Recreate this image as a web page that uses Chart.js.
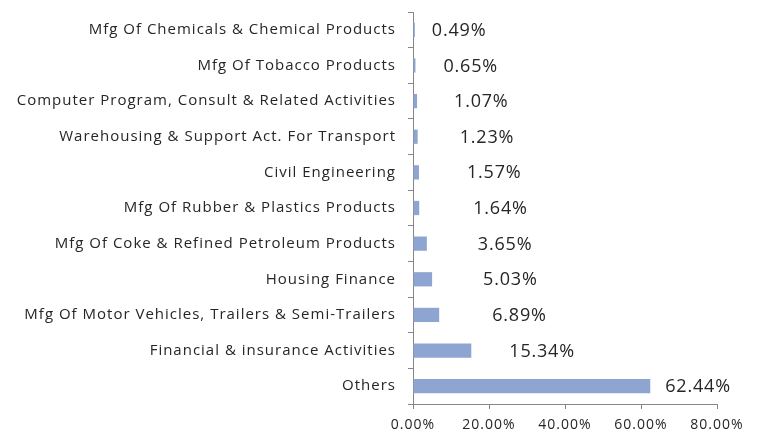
<!DOCTYPE html>
<html><head><meta charset="utf-8">
<script src="https://cdn.jsdelivr.net/npm/chart.js@4/dist/chart.umd.min.js"></script>
<style>html,body{margin:0;padding:0;background:#fff}#wrap{width:760px;height:436px}</style>
</head><body><div id="wrap"><canvas id="c" width="760" height="436"></canvas></div>
<script>
const categories = [
  "Mfg Of Chemicals & Chemical Products",
  "Mfg Of Tobacco Products",
  "Computer Program, Consult & Related Activities",
  "Warehousing & Support Act. For Transport",
  "Civil Engineering",
  "Mfg Of Rubber & Plastics Products",
  "Mfg Of Coke & Refined Petroleum Products",
  "Housing Finance",
  "Mfg Of Motor Vehicles, Trailers & Semi-Trailers",
  "Financial & insurance Activities",
  "Others"
];
const shares = [0.49, 0.65, 1.07, 1.23, 1.57, 1.64, 3.65, 5.03, 6.89, 15.34, 62.44];
const xTicks = [0, 20, 40, 60, 80];
const labelGaps = [17, 28, 37, 42, 48, 54, 51, 51, 53, 38, 15];

const FONT = "'Open Sans', sans-serif";
const spacingPlugin = {
  id: 'spacing',
  beforeDraw(chart) { chart.ctx.letterSpacing = '1px'; }
};
const labelPlugin = {
  id: 'barLabels',
  afterDatasetsDraw(chart) {
    const ctx = chart.ctx;
    const meta = chart.getDatasetMeta(0);
    ctx.save();
    ctx.letterSpacing = '0.8px';
    ctx.font = "18px " + FONT;
    ctx.fillStyle = '#262626';
    ctx.textAlign = 'left';
    ctx.textBaseline = 'middle';
    meta.data.forEach((bar, i) => {
      ctx.fillText(shares[i].toFixed(2) + '%', bar.x + labelGaps[i], bar.y + 1);
    });
    ctx.restore();
  }
};

new Chart(document.getElementById('c'), {
  type: 'bar',
  data: {
    labels: categories,
    datasets: [{
      data: shares,
      backgroundColor: '#8FA5D1',
      borderWidth: 0,
      barPercentage: 0.4,
      categoryPercentage: 1
    }]
  },
  options: {
    indexAxis: 'y',
    responsive: false,
    animation: false,
    layout: { padding: { top: 12, right: 43, left: 0, bottom: 0 } },
    plugins: { legend: { display: false }, tooltip: { enabled: false } },
    scales: {
      y: {
        afterFit(s) { s.width = 413; s.paddingTop = 0; s.paddingBottom = 0; },
        grid: { drawOnChartArea: false, drawTicks: true, tickLength: 5, color: '#868686', offset: true },
        border: { color: '#868686', width: 1 },
        ticks: { color: '#262626', font: { family: FONT, size: 15 }, padding: 12, autoSkip: false }
      },
      x: {
        min: 0, max: 80,
        afterFit(s) { s.height = 32; },
        afterBuildTicks(s) { s.ticks = xTicks.map(v => ({ value: v })); },
        grid: { drawOnChartArea: false, drawTicks: true, tickLength: 5, color: '#868686' },
        border: { color: '#868686', width: 1 },
        ticks: { color: '#262626', font: { family: FONT, size: 14 }, padding: 8, maxRotation: 0,
          callback: v => v.toFixed(2) + '%' }
      }
    }
  },
  plugins: [spacingPlugin, labelPlugin]
});
</script>
</body></html>
